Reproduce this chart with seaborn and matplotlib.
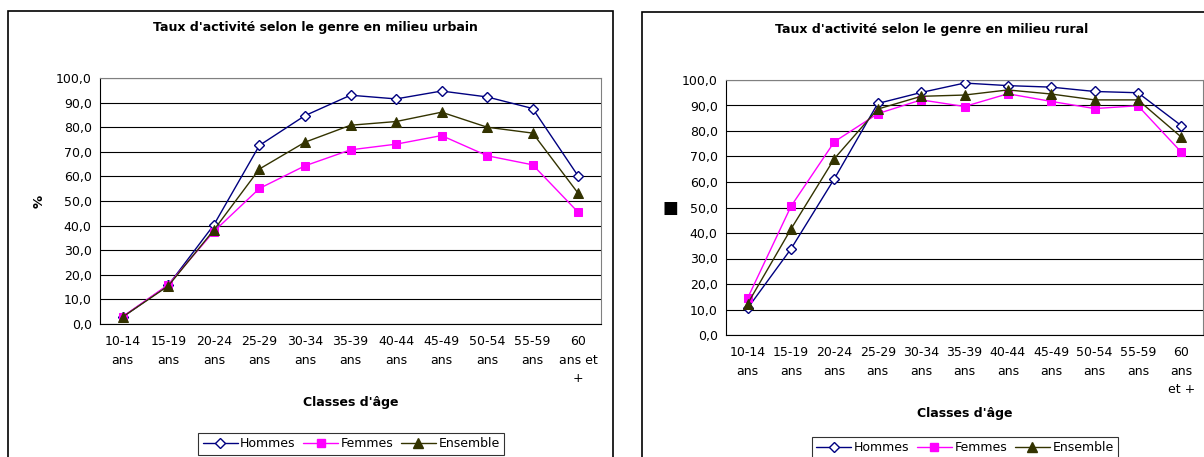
import matplotlib
matplotlib.use("Agg")
import matplotlib.pyplot as plt
from matplotlib.lines import Line2D
from matplotlib.patches import Rectangle
from matplotlib.ticker import FuncFormatter, FixedLocator
import seaborn as sns
import pandas as pd

sns.set_theme(style="white")
plt.rcParams["font.family"] = ["DejaVu Sans"]
plt.rcParams.update({"text.color": "black", "axes.labelcolor": "black",
                     "xtick.color": "black", "ytick.color": "black"})

# Age classes
classes = ["10-14", "15-19", "20-24", "25-29", "30-34", "35-39",
           "40-44", "45-49", "50-54", "55-59", "60+"]
labels_urbain = ["10-14\nans", "15-19\nans", "20-24\nans", "25-29\nans", "30-34\nans",
                 "35-39\nans", "40-44\nans", "45-49\nans", "50-54\nans", "55-59\nans",
                 "60\nans et\n+"]
labels_rural = ["10-14\nans", "15-19\nans", "20-24\nans", "25-29\nans", "30-34\nans",
                "35-39\nans", "40-44\nans", "45-49\nans", "50-54\nans", "55-59\nans",
                "60\nans\net +"]

# Activity rates (%) - urban
urb_hommes = [2.9, 15.8, 40.3, 72.6, 84.7, 93.0, 91.5, 94.7, 92.3, 87.6, 60.1]
urb_femmes = [3.0, 16.0, 37.6, 55.1, 64.3, 70.8, 73.1, 76.6, 68.4, 64.7, 45.4]
urb_ensemble = [2.9, 15.5, 38.2, 63.0, 73.9, 80.8, 82.3, 86.1, 80.0, 77.6, 53.1]

# Activity rates (%) - rural
rur_hommes = [10.5, 33.8, 61.3, 90.8, 95.1, 98.8, 97.8, 97.2, 95.5, 95.0, 82.1]
rur_femmes = [14.5, 50.5, 75.8, 86.8, 92.2, 89.6, 94.6, 91.6, 88.8, 89.9, 71.7]
rur_ensemble = [12.3, 41.6, 69.2, 88.6, 93.6, 94.1, 96.1, 94.5, 92.2, 92.2, 77.6]

series_names = ["Hommes", "Femmes", "Ensemble"]
NAVY = "#000080"
MAGENTA = "#FF00FF"
OLIVE = "#333300"
styles = {
    "Hommes": dict(color=NAVY, marker="D", markerfacecolor="white",
                   markeredgecolor=NAVY, markersize=5, markeredgewidth=1.0),
    "Femmes": dict(color=MAGENTA, marker="s", markerfacecolor=MAGENTA,
                   markeredgecolor=MAGENTA, markersize=6),
    "Ensemble": dict(color=OLIVE, marker="^", markerfacecolor=OLIVE,
                     markeredgecolor=OLIVE, markersize=7),
}

FS = 9
W, H = 1204, 457
fig = plt.figure(figsize=(W / 100, H / 100), dpi=100)
fig.patch.set_facecolor("white")


def px_axes(x0, y0, x1, y1):
    return fig.add_axes([x0 / W, 1 - y1 / H, (x1 - x0) / W, (y1 - y0) / H])


def draw_panel(ax, values, xlabels, ylabel, ylabel_kw):
    df = pd.DataFrame({
        "pos": list(range(len(classes))) * 3,
        "val": sum(values, []),
        "serie": [n for n in series_names for _ in classes],
    })
    for name in series_names:
        sub = df[df["serie"] == name]
        sns.lineplot(data=sub, x="pos", y="val", ax=ax, linewidth=1.0,
                     legend=False, zorder=3, **styles[name])
    ax.set_xlim(-0.5, len(classes) - 0.5)
    ax.set_ylim(0, 100)
    ax.set_yticks(range(0, 101, 10))
    ax.yaxis.set_major_formatter(FuncFormatter(lambda v, p: f"{v:.1f}".replace(".", ",")))
    ax.set_xticks(range(len(classes)))
    ax.set_xticklabels(xlabels, fontsize=FS, linespacing=1.55, va="top")
    ax.xaxis.set_minor_locator(FixedLocator([i - 0.5 for i in range(len(classes) + 1)]))
    ax.tick_params(axis="x", which="major", length=0, pad=8)
    ax.tick_params(axis="x", which="minor", length=4, width=0.8, color="black", direction="out")
    ax.tick_params(axis="y", which="major", length=4, width=0.8, color="black",
                   direction="out", labelsize=FS, pad=2)
    ax.grid(axis="y", color="black", linewidth=0.8)
    ax.set_axisbelow(True)
    for s in ("top", "right"):
        ax.spines[s].set_color("#808080")
        ax.spines[s].set_linewidth(0.8)
    for s in ("left", "bottom"):
        ax.spines[s].set_color("black")
        ax.spines[s].set_linewidth(0.8)
    ax.set_xlabel("Classes d'âge", fontsize=FS, fontweight="bold", labelpad=8)
    ax.set_ylabel(ylabel, **ylabel_kw)


# chart frames
fig.add_artist(Rectangle((8 / W, -0.05), (613 - 8) / W, (1 - 11 / H) + 0.05,
                         transform=fig.transFigure, fill=False,
                         edgecolor="black", linewidth=1.2))
fig.add_artist(Rectangle((642 / W, -0.05), 0.5, (1 - 12 / H) + 0.05,
                         transform=fig.transFigure, fill=False,
                         edgecolor="black", linewidth=1.2))

ax1 = px_axes(100, 78, 601, 324)
draw_panel(ax1, [urb_hommes, urb_femmes, urb_ensemble], labels_urbain, "%",
           dict(fontsize=FS + 0.5, fontweight="bold", labelpad=7))
fig.text(315 / W, 1 - 27 / H, "Taux d'activité selon le genre en milieu urbain",
         ha="center", va="center", fontsize=FS, fontweight="bold")

ax2 = px_axes(726, 80, 1203, 335)
draw_panel(ax2, [rur_hommes, rur_femmes, rur_ensemble], labels_rural, "■",
           dict(fontsize=12, labelpad=8, rotation=0, va="center"))
fig.text(932 / W, 1 - 29 / H, "Taux d'activité selon le genre en milieu rural",
         ha="center", va="center", fontsize=FS, fontweight="bold")

# legends
handles = [Line2D([0], [0], linewidth=1.0, **styles[n]) for n in series_names]
for cx, top in ((351, 433), (965, 437)):
    leg = fig.legend(handles, series_names, loc="upper center",
                     bbox_to_anchor=(cx / W, 1 - top / H), ncol=3, fontsize=FS,
                     frameon=True, fancybox=False, edgecolor="black",
                     handlelength=2.8, handletextpad=0.2, columnspacing=0.6,
                     borderpad=0.35, borderaxespad=0)
    leg.get_frame().set_linewidth(0.8)

fig.savefig("out.png", dpi=100, facecolor="white")
